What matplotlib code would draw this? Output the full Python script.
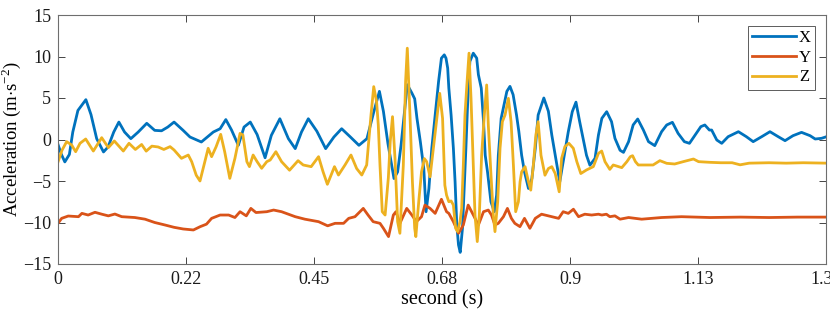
import matplotlib
matplotlib.use('Agg')
import matplotlib.pyplot as plt

# X axis (blue)
t_x = [0.000, 0.006, 0.012, 0.020, 0.026, 0.035, 0.049, 0.058, 0.068, 0.080, 0.088, 0.098,
       0.107, 0.117, 0.128, 0.141, 0.156, 0.170, 0.182, 0.193, 0.204, 0.220, 0.232, 0.252,
       0.273, 0.285, 0.295, 0.305, 0.317, 0.327, 0.338, 0.350, 0.364, 0.375, 0.390, 0.405,
       0.417, 0.428, 0.440, 0.455, 0.4705, 0.485, 0.4986, 0.514, 0.529, 0.543, 0.555, 0.565,
       0.572, 0.580, 0.5906, 0.597, 0.603, 0.609, 0.614, 0.622, 0.627, 0.631, 0.637, 0.643,
       0.647, 0.652, 0.657, 0.663, 0.669, 0.674, 0.679, 0.682, 0.685, 0.687, 0.691, 0.695,
       0.698, 0.701, 0.704, 0.707, 0.711, 0.714, 0.717, 0.720, 0.724, 0.730, 0.736, 0.739,
       0.744, 0.748, 0.751, 0.755, 0.761, 0.767, 0.771, 0.774, 0.779, 0.784, 0.789, 0.7945,
       0.800, 0.806, 0.810, 0.815, 0.820, 0.827, 0.833, 0.839, 0.844, 0.854, 0.862, 0.868,
       0.876, 0.882, 0.888, 0.897, 0.904, 0.9105, 0.917, 0.923, 0.929, 0.935, 0.944, 0.950,
       0.956, 0.9645, 0.973, 0.979, 0.988, 0.994, 1.003, 1.011, 1.019, 1.029, 1.038, 1.049,
       1.061, 1.070, 1.080, 1.090, 1.101, 1.110, 1.120, 1.130, 1.137, 1.145, 1.149, 1.158,
       1.1667, 1.178, 1.196, 1.210, 1.222, 1.237, 1.2515, 1.266, 1.278, 1.292, 1.307, 1.322,
       1.331, 1.342, 1.351]
acc_x = [-0.6, -1.8, -2.7, -1.8, 0.9, 3.5, 4.8, 3.0, 0.1, -1.5, -0.9, 0.9,
         2.1, 0.9, 0.1, 0.9, 1.95, 1.1, 1.05, 1.5, 2.1, 1.1, 0.3, -0.3,
         0.9, 1.3, 2.4, 1.15, -0.7, 1.5, 2.1, 0.6, -2.2, 0.5, 2.5, 0.1,
         -1.1, 0.9, 2.5, 1.0, -1.1, 0.3, 1.3, 0.3, -0.7, 0.1, 3.3, 5.8,
         3.4, -0.5, -4.7, -3.9, -0.7, 3.3, 6.6, 5.6, 4.9, 2.55, -0.3, -3.5,
         -8.7, -5.9, -1.1, 2.95, 7.0, 9.8, 10.2, 9.8, 8.6, 6.2, 2.95, -1.06,
         -5.1, -10.3, -12.7, -13.6, -10.7, -5.9, -1.06, 4.2, 9.4, 10.4, 9.8, 7.8,
         6.2, 2.15, -1.9, -3.9, -7.5, -8.7, -6.7, -1.9, 2.55, 4.2, 5.8, 6.4,
         5.4, 2.95, 1.0, -1.9, -3.9, -5.9, -4.7, -1.06, 2.95, 5.0, 3.4, 0.54,
         -2.7, -5.1, -2.7, 0.94, 3.35, 4.5, 2.15, 0.14, -1.9, -3.1, -2.27, 0.54,
         2.55, 3.35, 2.15, 0.14, -1.3, -1.55, -0.26, 1.75, 2.47, 1.14, -0.26, -0.74,
         0.94, 1.75, 2.07, 0.74, -0.26, -0.46, 0.54, 1.55, 1.75, 1.14, 1.14, -0.06,
         -0.46, 0.34, 0.94, 0.34, -0.26, 0.34, 0.94, 0.34, -0.14, 0.46, 0.86, 0.46,
         0.06, 0.14, 0.34]

# Y axis (red)
t_y = [0.000, 0.0064, 0.018, 0.036, 0.042, 0.053, 0.065, 0.077, 0.0885, 0.100, 0.112, 0.135,
       0.153, 0.170, 0.188, 0.204, 0.220, 0.238, 0.250, 0.261, 0.270, 0.285, 0.300, 0.311,
       0.320, 0.331, 0.339, 0.348, 0.367, 0.379, 0.393, 0.405, 0.417, 0.434, 0.458, 0.474,
       0.487, 0.502, 0.511, 0.522, 0.5366, 0.545, 0.554, 0.566, 0.572, 0.581, 0.5895, 0.594,
       0.601, 0.613, 0.622, 0.630, 0.639, 0.645, 0.654, 0.663, 0.674, 0.683, 0.687, 0.695,
       0.704, 0.7125, 0.721, 0.7301, 0.739, 0.748, 0.7564, 0.762, 0.768, 0.774, 0.783, 0.790,
       0.797, 0.803, 0.812, 0.820, 0.8295, 0.839, 0.850, 0.862, 0.880, 0.888, 0.897, 0.906,
       0.915, 0.926, 0.938, 0.950, 0.956, 0.964, 0.970, 0.979, 0.988, 1.003, 1.026, 1.061,
       1.096, 1.146, 1.200, 1.250, 1.300, 1.351]
acc_y = [-10.1, -9.5, -9.22, -9.3, -8.9, -9.1, -8.77, -9.0, -9.2, -8.98, -9.3, -9.4,
         -9.6, -10.0, -10.3, -10.58, -10.78, -10.9, -10.5, -10.2, -9.5, -9.1, -9.1, -9.4,
         -8.7, -9.2, -8.3, -8.8, -8.7, -8.5, -8.7, -9.0, -9.3, -9.6, -9.9, -10.4,
         -10.1, -10.1, -9.5, -9.3, -8.3, -9.1, -9.9, -10.1, -10.7, -11.7, -9.1, -8.7,
         -10.1, -8.3, -9.1, -9.9, -9.3, -7.9, -8.3, -8.9, -7.2, -8.7, -8.9, -9.9,
         -11.3, -10.3, -7.9, -9.1, -10.3, -8.7, -8.5, -9.1, -10.3, -10.1, -9.3, -8.3,
         -9.5, -10.1, -10.5, -9.5, -10.7, -9.5, -9.0, -9.2, -9.5, -8.7, -8.9, -8.4,
         -9.3, -9.0, -9.1, -9.0, -9.1, -9.0, -9.3, -9.2, -9.6, -9.4, -9.6, -9.4,
         -9.3, -9.4, -9.35, -9.4, -9.35, -9.35]

# Z axis (yellow)
t_z = [0.000, 0.007, 0.0152, 0.024, 0.031, 0.0387, 0.0487, 0.0621, 0.0768, 0.0885, 0.099, 0.1148,
       0.1248, 0.136, 0.147, 0.155, 0.165, 0.176, 0.186, 0.197, 0.204, 0.217, 0.229, 0.235,
       0.243, 0.2496, 0.258, 0.264, 0.270, 0.278, 0.286, 0.293, 0.302, 0.311, 0.320, 0.325,
       0.332, 0.3365, 0.343, 0.350, 0.358, 0.367, 0.373, 0.383, 0.393, 0.407, 0.422, 0.431,
       0.445, 0.458, 0.466, 0.4735, 0.486, 0.493, 0.5045, 0.515, 0.525, 0.534, 0.5426, 0.5502,
       0.555, 0.560, 0.563, 0.566, 0.570, 0.575, 0.5807, 0.584, 0.588, 0.5924, 0.597, 0.601,
       0.607, 0.611, 0.614, 0.6187, 0.623, 0.627, 0.629, 0.6346, 0.639, 0.644, 0.648, 0.654,
       0.6598, 0.666, 0.671, 0.676, 0.680, 0.683, 0.687, 0.691, 0.695, 0.699, 0.7025, 0.7066,
       0.7096, 0.7125, 0.7154, 0.7183, 0.7225, 0.726, 0.7301, 0.733, 0.737, 0.7406, 0.7447, 0.7494,
       0.7535, 0.7564, 0.7611, 0.7652, 0.7681, 0.7729, 0.777, 0.7811, 0.7858, 0.7917, 0.7964, 0.8005,
       0.8045, 0.8093, 0.8122, 0.815, 0.821, 0.827, 0.831, 0.8356, 0.840, 0.844, 0.849, 0.856,
       0.862, 0.868, 0.874, 0.881, 0.8853, 0.891, 0.898, 0.9058, 0.912, 0.919, 0.929, 0.941,
       0.950, 0.9557, 0.9615, 0.970, 0.976, 0.985, 0.991, 1.000, 1.006, 1.010, 1.015, 1.020,
       1.032, 1.046, 1.058, 1.070, 1.084, 1.099, 1.117, 1.126, 1.146, 1.165, 1.185, 1.199,
       1.215, 1.250, 1.280, 1.310, 1.351]
acc_z = [-2.7, -1.3, -0.26, -0.66, -1.47, -0.46, 0.06, -1.39, 0.22, -0.98, -0.18, -1.39,
         -0.46, -1.2, -0.6, -1.4, -0.8, -0.9, -1.2, -0.86, -1.26, -2.27, -1.87, -2.67,
         -4.3, -5.0, -2.67, -1.06, -2.07, -0.86, 0.62, -1.47, -4.68, -2.27, 0.74, 0.54,
         -2.67, -3.27, -1.87, -2.67, -3.47, -2.67, -2.47, -1.47, -2.67, -3.7, -2.55, -3.07,
         -3.27, -2.07, -3.9, -5.4, -3.27, -4.28, -3.07, -1.87, -3.5, -4.28, -3.07, 2.95,
         6.37, 4.56, 1.75, -3.1, -8.7, -9.1, -4.6, -0.26, 2.75, -2.3, -9.9, -11.3,
         -3.1, 6.97, 11.0, 2.95, -5.1, -10.7, -11.7, -7.1, -3.9, -2.3, -2.67, -4.5,
         -1.06, 2.55, 5.56, 2.55, -5.5, -6.7, -7.5, -7.4, -7.9, -10.7, -11.1, -9.9,
         -8.3, -3.07, 2.95, 6.16, 10.4, 4.96, -3.07, -9.1, -12.3, -9.1, -1.87, 2.95,
         6.57, 1.75, -4.28, -9.1, -11.1, -7.5, -1.06, 2.15, 2.95, 4.96, 2.15, -3.07,
         -8.7, -7.5, -5.1, -3.9, -3.27, -5.1, -6.1, -3.07, 0.54, 2.15, -1.9, -4.3,
         -3.5, -3.27, -4.1, -6.3, -2.27, -0.86, -0.46, -1.06, -2.67, -4.1, -3.67, -3.27,
         -1.67, -1.39, -2.67, -3.6, -3.07, -3.27, -3.39, -2.67, -2.07, -1.95, -2.67, -3.07,
         -3.07, -3.07, -2.55, -2.87, -2.95, -2.67, -2.35, -2.67, -2.75, -2.8, -2.8, -3.05,
         -2.85, -2.8, -2.85, -2.8, -2.85]

x_ticks = [0, 0.225, 0.45, 0.675, 0.9, 1.125, 1.35]
x_ticklabels = ['0', '0.22', '0.45', '0.68', '0.9', '1.13', '1.35']
y_ticks = [-15, -10, -5, 0, 5, 10, 15]

plt.rcParams['font.family'] = ['Liberation Serif', 'DejaVu Serif']
plt.rcParams['mathtext.fontset'] = 'custom'
plt.rcParams['mathtext.rm'] = 'Liberation Serif'

fig = plt.figure(figsize=(8.3, 3.15), dpi=100)
ax = fig.add_axes([58 / 830, 51 / 315, 768 / 830, 249 / 315])

ax.plot(t_x, acc_x, color='#0072BD', lw=2, label='X')
ax.plot(t_y, acc_y, color='#D95319', lw=2, label='Y')
ax.plot(t_z, acc_z, color='#EDB120', lw=2, label='Z')

ax.set_xlim(0, 1.35)
ax.set_ylim(-15, 15)
ax.set_xticks(x_ticks)
ax.set_xticklabels(x_ticklabels)
ax.set_yticks(y_ticks)
ax.tick_params(direction='in', length=5, width=0.6, top=True, right=True,
               labelsize=13, colors='#262626', labelcolor='#1a1a1a', pad=5)
for s in ax.spines.values():
    s.set_color('#6e6e6e')
    s.set_linewidth(0.8)

ax.set_xlabel('second (s)', fontsize=14.5, labelpad=2)
ax.set_ylabel(r'Acceleration (m$\cdot$s$^{-2}$)', fontsize=13.5)
ax.yaxis.set_label_coords(-0.046, 0.5)

leg = ax.legend(loc='upper right', fontsize=12, frameon=True, fancybox=False,
                handlelength=2.6, handletextpad=0.2, labelspacing=0.22,
                borderpad=0.25, borderaxespad=0.65)
leg.get_frame().set_edgecolor('#333333')
leg.get_frame().set_linewidth(0.7)

fig.savefig('out.png', dpi=100)
